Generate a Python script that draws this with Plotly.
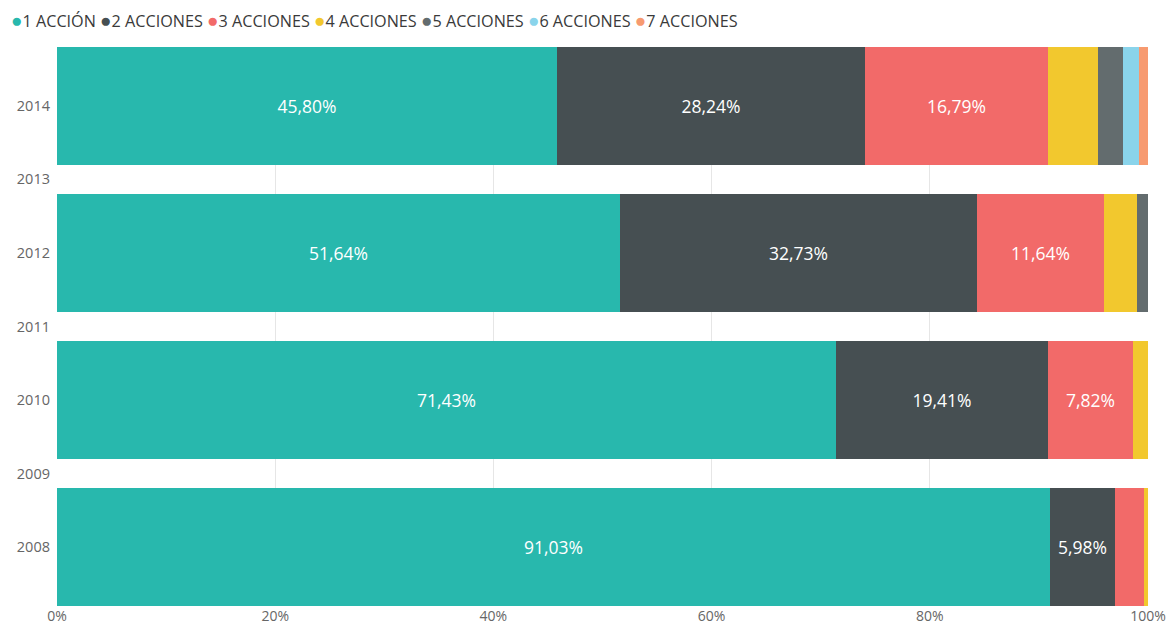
import plotly.graph_objects as go

years = [2008, 2010, 2012, 2014]
series_names = ["1 ACCIÓN", "2 ACCIONES", "3 ACCIONES", "4 ACCIONES", "5 ACCIONES", "6 ACCIONES", "7 ACCIONES"]
colors = ["#28B8AD", "#464F52", "#F26A69", "#F2C82E", "#636C6E", "#8AD4EB", "#F79A70"]

# values per series, aligned with years (2008, 2010, 2012, 2014)
accion_1 = [91.03, 71.43, 51.64, 45.80]
acciones_2 = [5.98, 19.41, 32.73, 28.24]
acciones_3 = [2.62, 7.82, 11.64, 16.79]
acciones_4 = [0.37, 1.34, 2.97, 4.61]
acciones_5 = [0.0, 0.0, 1.02, 2.26]
acciones_6 = [0.0, 0.0, 0.0, 1.52]
acciones_7 = [0.0, 0.0, 0.0, 0.78]

all_series = [accion_1, acciones_2, acciones_3, acciones_4, acciones_5, acciones_6, acciones_7]

x_ticks = [0, 20, 40, 60, 80, 100]
x_tick_labels = ["0%", "20%", "40%", "60%", "80%", "100%"]
y_ticks = [2008, 2009, 2010, 2011, 2012, 2013, 2014]

FONT = "Open Sans"

def fmt(v):
    return ("%.2f%%" % v).replace(".", ",") if v >= 5 else ""

fig = go.Figure()
for name, vals, col in zip(series_names, all_series, colors):
    fig.add_trace(go.Bar(
        y=years, x=vals, name=name, orientation="h",
        marker=dict(color=col, line=dict(width=0)),
        width=1.6,
        text=[fmt(v) for v in vals],
        textposition="inside", insidetextanchor="middle", textangle=0,
        insidetextfont=dict(color="white", size=17.5, family=FONT),
        constraintext="none",
        showlegend=False,
        hoverinfo="name+x",
    ))

# legend built as text
parts = []
for name, col in zip(series_names, colors):
    parts.append("<span style='color:%s;font-size:19px'>●</span>%s" % (col, name))
legend_text = " ".join(parts)
fig.add_annotation(
    text=legend_text, xref="paper", yref="paper", x=-0.044, y=1.0,
    xanchor="left", yanchor="bottom", yshift=12, showarrow=False,
    font=dict(family=FONT, size=16.2, color="#3a3a3a"),
)

fig.update_layout(
    barmode="stack",
    width=1168, height=625,
    margin=dict(l=57, r=20, t=47, b=19),
    paper_bgcolor="white", plot_bgcolor="white",
    font=dict(family=FONT, color="#666666", size=14),
    bargap=0,
)
fig.update_xaxes(
    range=[0, 100], tickvals=x_ticks, ticktext=x_tick_labels,
    showgrid=True, gridcolor="#e6e6e6", gridwidth=1,
    zeroline=False, showline=False, ticks="",
    tickfont=dict(size=14, color="#666666", family=FONT),
    automargin=False,
)
fig.update_yaxes(
    range=[2007.2, 2014.8], tickvals=y_ticks, ticktext=[str(y) for y in y_ticks],
    showgrid=False, zeroline=False, showline=False, ticks="",
    tickfont=dict(size=14.5, color="#666666", family=FONT),
    ticklabelstandoff=6,
    automargin=False,
)

fig.write_html("out.html", config={"displayModeBar": False},
               post_script="document.body.style.margin='0';")
